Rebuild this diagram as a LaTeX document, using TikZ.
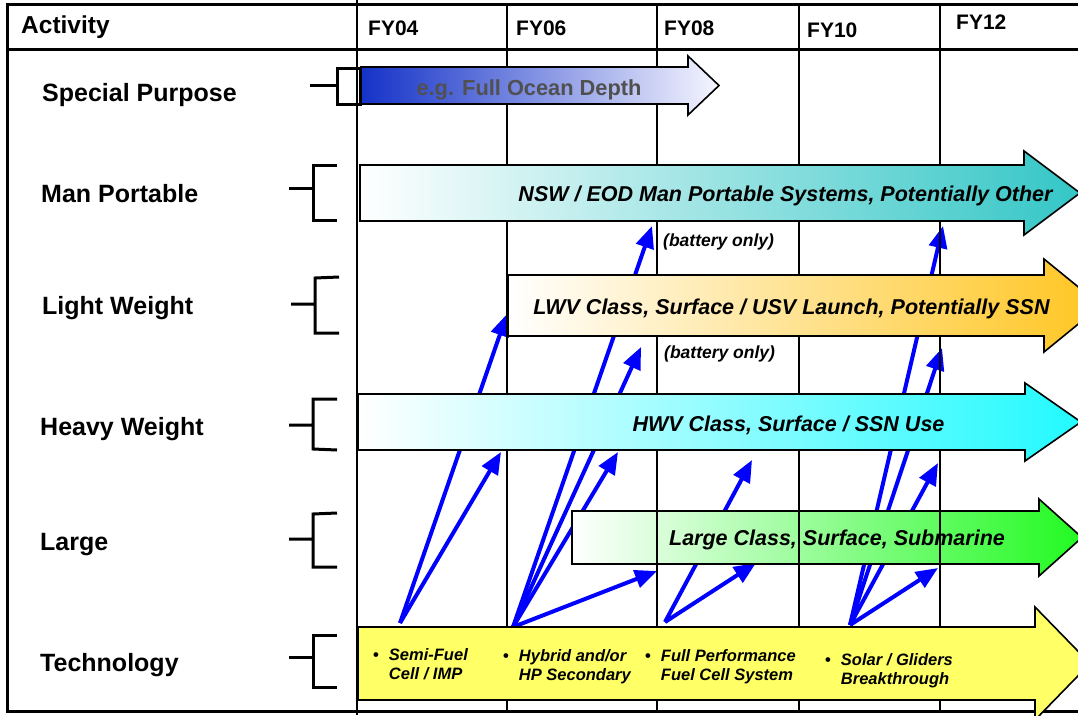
\documentclass[tikz,border=0pt]{standalone}
\usepackage{fontspec}
\setmainfont{Liberation Sans}
\usetikzlibrary{arrows.meta}
\definecolor{spblue}{RGB}{20,50,200}
\definecolor{spwhite}{RGB}{246,246,255}
\definecolor{mpteal}{RGB}{52,198,198}
\definecolor{mpmid}{RGB}{170,228,228}
\definecolor{lwgold}{RGB}{255,197,32}
\definecolor{lwmid}{RGB}{253,232,190}
\definecolor{hwcyan}{RGB}{34,250,255}
\definecolor{hwmid}{RGB}{200,255,255}
\definecolor{lggreen}{RGB}{34,250,34}
\definecolor{lgmid}{RGB}{200,255,200}
\definecolor{techyellow}{RGB}{255,255,102}
\definecolor{sptext}{RGB}{80,80,80}
\begin{document}
\begin{tikzpicture}[x=1pt,y=-1pt,
  lab/.style={font=\fontsize{25}{30}\selectfont\bfseries, anchor=base west, inner sep=0pt},
  hdr/.style={font=\fontsize{21}{25}\selectfont\bfseries, anchor=base west, inner sep=0pt},
  bartxt/.style={font=\fontsize{21.5}{26}\selectfont\bfseries\itshape, anchor=base, inner sep=0pt},
  battxt/.style={font=\fontsize{17.5}{21}\selectfont\bfseries\itshape, anchor=base west, inner sep=0pt},
  techtxt/.style={font=\fontsize{16.5}{19}\selectfont\bfseries\itshape, anchor=base west, inner sep=0pt},
  gridline/.style={line width=1.8pt},
  frameline/.style={line width=3pt},
  brk/.style={line width=3pt},
  bigarrow/.style={draw=black, line width=1.6pt, line join=miter},
  feed/.style={draw=blue, line width=4pt, -{Triangle[length=22pt,width=18pt]}},
]
\useasboundingbox (0,0) rectangle (1078,715);
\clip (0,0) rectangle (1078,715);
\fill[white] (0,0) rectangle (1078,715);

% frame
\draw[frameline] (1090,4) -- (7,4) -- (7,711) -- (1090,711);
\draw[frameline] (7,49) -- (1090,49);

% feed coordinates
\coordinate (s1) at (400,623);
\coordinate (s2) at (513,627);
\coordinate (s3) at (665,622);
\coordinate (s4) at (850,625);
\coordinate (t1a) at (507,314);
\coordinate (t1b) at (501,452);
\coordinate (t2a) at (652,226);
\coordinate (t2b) at (641,347);
\coordinate (t2c) at (618,452);
\coordinate (t2d) at (657,571);
\coordinate (t3a) at (752,460);
\coordinate (t3b) at (756,563);
\coordinate (t4a) at (943,226);
\coordinate (t4b) at (942,348);
\coordinate (t4c) at (938,463);
\coordinate (t4d) at (938,568);

\foreach \s/\t in {s1/t1a,s1/t1b,s2/t2a,s2/t2b,s2/t2c,s2/t2d,s3/t3a,s3/t3b,s4/t4a,s4/t4b,s4/t4c,s4/t4d}
  \draw[feed] (\s) -- (\t);

% large arrow (grid shows through)
\shadedraw[bigarrow, left color=white, middle color=lgmid, right color=lggreen]
  (572,511) -- (1039,511) -- (1039,499) -- (1082,537.5) -- (1039,576) -- (1039,564) -- (572,564) -- cycle;

% grid
\draw[gridline] (357,0) -- (357,715);
\foreach \x in {507,657,799,940} \draw[gridline] (\x,4) -- (\x,711);

% special purpose
\shadedraw[bigarrow, left color=spblue, right color=spwhite]
  (361,67) -- (688,67) -- (688,56) -- (719,85.5) -- (688,115) -- (688,104) -- (361,104) -- cycle;
% man portable
\shadedraw[bigarrow, left color=white, middle color=mpmid, right color=mpteal]
  (360,165) -- (1024,165) -- (1024,151) -- (1080,193) -- (1024,235) -- (1024,221) -- (360,221) -- cycle;
% light weight
\shadedraw[bigarrow, left color=white, middle color=lwmid, right color=lwgold]
  (508,275) -- (1044,275) -- (1044,259) -- (1101,305.5) -- (1044,352) -- (1044,336) -- (508,336) -- cycle;
% heavy weight
\shadedraw[bigarrow, left color=white, middle color=hwmid, right color=hwcyan]
  (358,394) -- (1025,394) -- (1025,383) -- (1081,422) -- (1025,461) -- (1025,450) -- (358,450) -- cycle;
% technology
\filldraw[bigarrow, fill=techyellow]
  (358,627) -- (1035,627) -- (1035,607) -- (1090,663.5) -- (1035,720) -- (1035,700) -- (358,700) -- cycle;

% brackets
\draw[brk] (310,85) -- (337,85);
\draw[brk] (337,68) rectangle (360,104);
\draw[brk] (289,188) -- (313,188) (337,165) -- (313,165) -- (313,220) -- (337,220);
\draw[brk] (291,304) -- (315,304) (339,277) -- (315,278) -- (315,333) -- (339,333);
\draw[brk] (289,425) -- (313,425) (337,399) -- (313,399) -- (313,449) -- (337,450);
\draw[brk] (289,539) -- (313,539) (337,513) -- (313,514) -- (313,567) -- (337,567);
\draw[brk] (289,657) -- (313,657) (337,635) -- (313,635) -- (313,687) -- (337,687);

% header texts
\node[hdr, font=\fontsize{24.5}{29}\selectfont\bfseries] (act) at (21,33) {Activity};
\node[hdr] (fy04) at (368,35) {FY04};
\node[hdr] (fy06) at (516,35) {FY06};
\node[hdr] (fy08) at (664,35) {FY08};
\node[hdr] (fy10) at (807,37) {FY10};
\node[hdr] (fy12) at (956,29) {FY12};

% row labels
\node[lab] (lsp) at (42,101) {Special Purpose};
\node[lab] (lmp) at (41,202) {Man Portable};
\node[lab] (llw) at (42,314) {Light Weight};
\node[lab] (lhw) at (40,435) {Heavy Weight};
\node[lab] (llg) at (40,550) {Large};
\node[lab] (lte) at (40,671) {Technology};

% bar texts
\node[bartxt, font=\fontsize{21.8}{26}\selectfont\bfseries, text=sptext] (tsp) at (529,95) {e.g. Full Ocean Depth};
\node[bartxt] (tmp) at (785.5,201.5) {NSW / EOD Man Portable Systems, Potentially Other};
\node[bartxt] (tlw) at (791.5,314) {LWV Class, Surface / USV Launch, Potentially SSN};
\node[bartxt] (thw) at (788.5,431) {HWV Class, Surface / SSN Use};
\node[bartxt] (tlg) at (837,545) {Large Class, Surface, Submarine};
\node[battxt] (bat1) at (663,246) {(battery only)};
\node[battxt] (bat2) at (664,358) {(battery only)};

% technology items
\node[techtxt] (te1) at (373,660) {\begin{tabular}[t]{@{}l@{\hspace{10pt}}l@{}}{\upshape\textbullet} & Semi-Fuel\\ & Cell / IMP\end{tabular}};
\node[techtxt] (te2) at (503,661.5) {\begin{tabular}[t]{@{}l@{\hspace{10pt}}l@{}}{\upshape\textbullet} & Hybrid and/or\\ & HP Secondary\end{tabular}};
\node[techtxt] (te3) at (645,661.5) {\begin{tabular}[t]{@{}l@{\hspace{10pt}}l@{}}{\upshape\textbullet} & Full Performance\\ & Fuel Cell System\end{tabular}};
\node[techtxt] (te4) at (825,665) {\begin{tabular}[t]{@{}l@{\hspace{10pt}}l@{}}{\upshape\textbullet} & Solar / Gliders\\ & Breakthrough\end{tabular}};
\end{tikzpicture}
\end{document}
